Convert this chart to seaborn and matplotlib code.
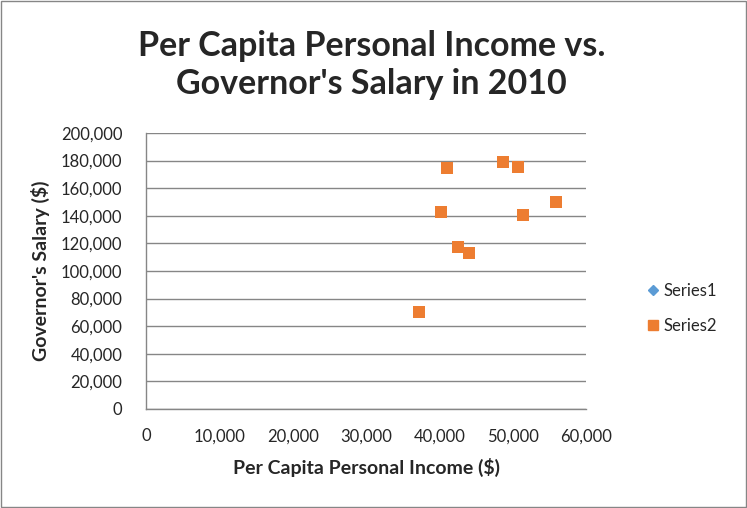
import pandas as pd
import matplotlib.pyplot as plt
import seaborn as sns
from matplotlib.lines import Line2D

# values
income = [41000, 48700, 50750, 55950, 40200, 51450, 42550, 44050, 37200]
salary = [174914, 179000, 175200, 150000, 142700, 140400, 117300, 113000, 70000]
# series1 sits right behind series2, a touch to the left
income_s1 = [40850, 48550, 50600, 55800, 40050, 51300, 42400, 43900, 37050]
salary_s1 = salary
x_ticks = [0, 10000, 20000, 30000, 40000, 50000, 60000]
y_ticks = [0, 20000, 40000, 60000, 80000, 100000, 120000, 140000, 160000, 180000, 200000]

s1 = pd.DataFrame({'income': income_s1, 'salary': salary_s1})
s2 = pd.DataFrame({'income': income, 'salary': salary})

sns.set_style('white')
plt.rcParams['font.family'] = ['Lato', 'DejaVu Sans']

fig = plt.figure(figsize=(7.47, 5.08), dpi=100)
ax = fig.add_axes([0.1955, 0.1949, 0.589, 0.5433])

sns.scatterplot(data=s1, x='income', y='salary', marker='D', color='#5B9BD5',
                s=32, linewidth=0, ax=ax, zorder=3)
sns.scatterplot(data=s2, x='income', y='salary', marker='s', color='#ED7D31',
                s=70, linewidth=0, ax=ax, zorder=4)

ax.set_xlim(0, 60000)
ax.set_ylim(0, 200000)
ax.set_xticks(x_ticks)
ax.set_yticks(y_ticks)
ax.set_xticklabels(['0' if v == 0 else f'{v:,}' for v in x_ticks], fontsize=12)
ax.set_yticklabels(['0' if v == 0 else f'{v:,}' for v in y_ticks], fontsize=12)
ax.tick_params(axis='y', length=0, pad=17)
ax.tick_params(axis='x', length=0, pad=14)
ax.grid(axis='y', color='#868686', linewidth=1)
ax.set_axisbelow(True)
for side in ['top', 'right']:
    ax.spines[side].set_visible(False)
for side in ['left', 'bottom']:
    ax.spines[side].set_color('#868686')
    ax.spines[side].set_linewidth(1)

ax.set_xlabel('Per Capita Personal Income ($)', fontsize=14, fontweight='bold', labelpad=10)
ax.set_ylabel("Governor's Salary ($)", fontsize=14, fontweight='bold', labelpad=8)

fig.text(0.497, 0.872, 'Per Capita Personal Income vs.\nGovernor\'s Salary in 2010',
         ha='center', va='center', fontsize=24.5, fontweight='bold', linespacing=1.2)

# legend to the right
handles = [Line2D([], [], marker='D', color='#5B9BD5', linestyle='', markersize=5.5),
           Line2D([], [], marker='s', color='#ED7D31', linestyle='', markersize=7.5)]
fig.legend(handles, ['Series1', 'Series2'], loc='center left', bbox_to_anchor=(0.867, 0.393),
           frameon=False, fontsize=12, handletextpad=0.35, labelspacing=1.15,
           handlelength=0.6, borderpad=0, borderaxespad=0)

# thin grey border around the whole chart
fig.patches.append(plt.Rectangle((0.001, 0.001), 0.997, 0.997, transform=fig.transFigure,
                                 fill=False, edgecolor='#868686', linewidth=1))

plt.savefig('out.png', dpi=100)
